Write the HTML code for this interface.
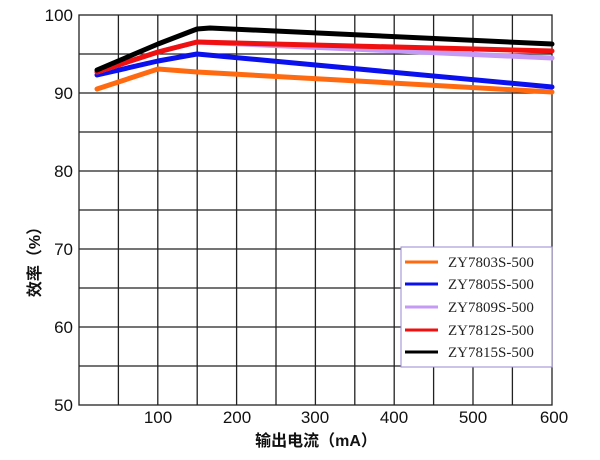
<!DOCTYPE html>
<html><head><meta charset="utf-8"><style>body{margin:0;background:#fff}svg{display:block}</style></head><body>
<svg width="600" height="460" xmlns="http://www.w3.org/2000/svg" font-family="Liberation Sans, Noto Sans CJK SC, sans-serif">
<rect width="600" height="460" fill="#fff"/>
<g stroke="#222" stroke-width="1.3">
<line x1="118.4" y1="15" x2="118.4" y2="405"/><line x1="157.8" y1="15" x2="157.8" y2="405"/>
<line x1="197.2" y1="15" x2="197.2" y2="405"/><line x1="236.6" y1="15" x2="236.6" y2="405"/>
<line x1="276" y1="15" x2="276" y2="405"/><line x1="315.4" y1="15" x2="315.4" y2="405"/>
<line x1="354.8" y1="15" x2="354.8" y2="405"/><line x1="394.2" y1="15" x2="394.2" y2="405"/>
<line x1="433.6" y1="15" x2="433.6" y2="405"/><line x1="473" y1="15" x2="473" y2="405"/>
<line x1="512.4" y1="15" x2="512.4" y2="405"/>
<line x1="79" y1="54" x2="552" y2="54"/><line x1="79" y1="93" x2="552" y2="93"/>
<line x1="79" y1="132" x2="552" y2="132"/><line x1="79" y1="171" x2="552" y2="171"/>
<line x1="79" y1="210" x2="552" y2="210"/><line x1="79" y1="249" x2="552" y2="249"/>
<line x1="79" y1="288" x2="552" y2="288"/><line x1="79" y1="327" x2="552" y2="327"/>
<line x1="79" y1="366" x2="552" y2="366"/>
<rect x="79" y="15" width="473" height="390" fill="none"/>
</g>
<g fill="none" stroke-width="5" stroke-linejoin="round" stroke-linecap="round">
<polyline stroke="#ff6a10" points="97,89 158,69 197,72 552,92"/>
<polyline stroke="#0a10ee" points="97,75 158,61 197,54 552,87"/>
<polyline stroke="#c59af7" points="97,72 158,52 197,42 552,58"/>
<polyline stroke="#f01010" points="97,72 158,52 197,42 552,51"/>
<polyline stroke="#000" points="97,70 158,44 197,29 210,28 552,44"/>
</g>
<g font-size="17" fill="#111" text-anchor="end">
<text x="73" y="21">100</text><text x="73" y="99">90</text><text x="73" y="177">80</text>
<text x="73" y="255">70</text><text x="73" y="333">60</text><text x="73" y="411">50</text>
</g>
<g font-size="17" fill="#111" text-anchor="middle">
<text x="158" y="423">100</text><text x="237" y="423">200</text><text x="315" y="423">300</text>
<text x="394" y="423">400</text><text x="473" y="423">500</text><text x="554" y="423">600</text>
</g>
<text x="316" y="446" font-size="16" font-weight="bold" text-anchor="middle" fill="#111">输出电流（mA）</text>
<text transform="translate(40,258) rotate(-90)" font-size="16" font-weight="bold" text-anchor="middle" fill="#111">效率（%）</text>
<rect x="401" y="247" width="151" height="120" fill="#fff" stroke="#9a8ad0" stroke-width="1"/>
<g stroke-width="3">
<line x1="405" y1="262" x2="438" y2="262" stroke="#ff6a10"/>
<line x1="405" y1="284" x2="438" y2="284" stroke="#0a10ee"/>
<line x1="405" y1="307" x2="438" y2="307" stroke="#c59af7"/>
<line x1="405" y1="330" x2="438" y2="330" stroke="#f01010"/>
<line x1="405" y1="352" x2="438" y2="352" stroke="#000"/>
</g>
<g font-family="Liberation Serif, serif" font-size="15" fill="#222">
<text x="448" y="267">ZY7803S-500</text><text x="448" y="289">ZY7805S-500</text>
<text x="448" y="312">ZY7809S-500</text><text x="448" y="335">ZY7812S-500</text>
<text x="448" y="357">ZY7815S-500</text>
</g>
</svg>
</body></html>
